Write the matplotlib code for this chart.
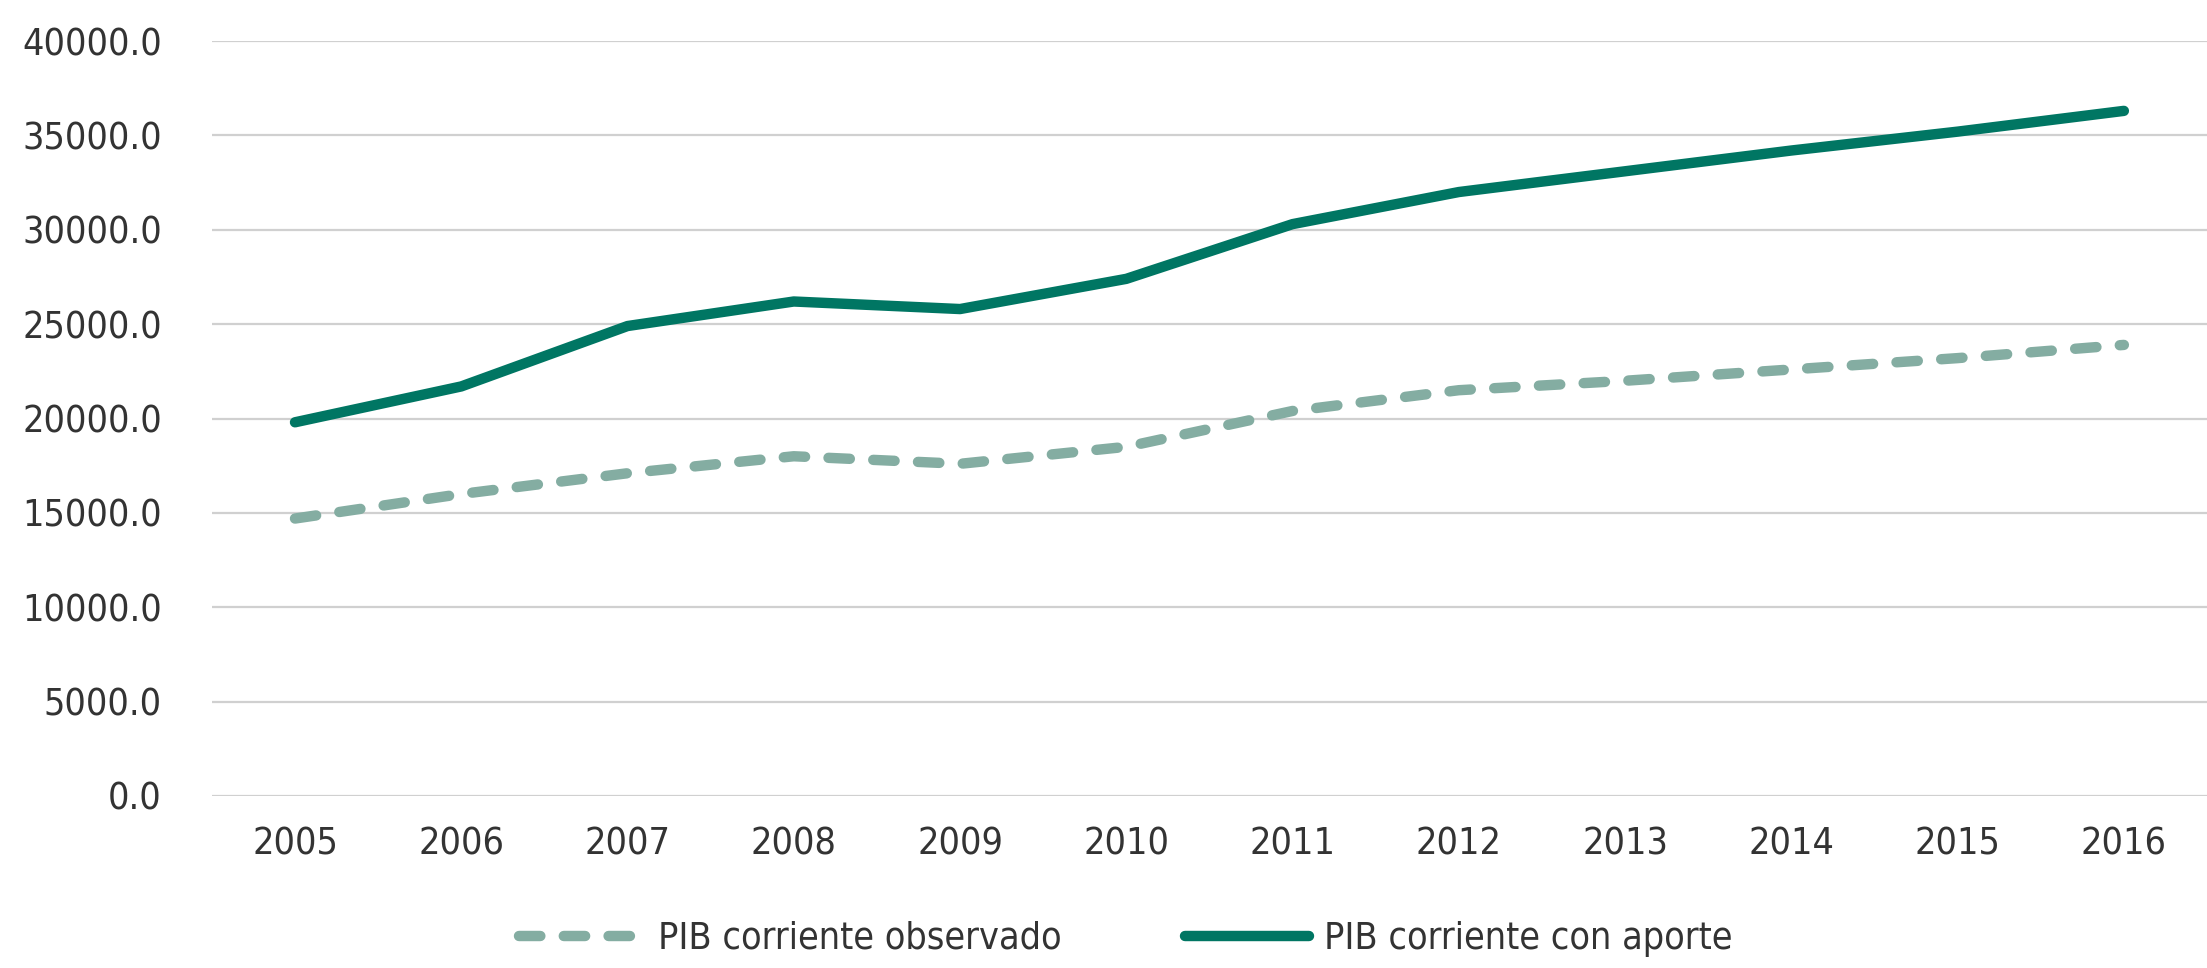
import numpy as np
import matplotlib
matplotlib.use("Agg")
import matplotlib.pyplot as plt

# data
years = ["2005", "2006", "2007", "2008", "2009", "2010",
         "2011", "2012", "2013", "2014", "2015", "2016"]
pib_observado = [14700, 16000, 17100, 18000, 17600, 18500,
                 20400, 21500, 22000, 22600, 23200, 23900]
pib_con_aporte = [19800, 21700, 24900, 26200, 25800, 27400,
                  30300, 32000, 33100, 34200, 35200, 36300]
y_ticks = [0, 5000, 10000, 15000, 20000, 25000, 30000, 35000, 40000]

# condensed face to look like the original narrow font
plt.rcParams['font.family'] = ['DejaVu Sans']
plt.rcParams['font.stretch'] = 'condensed'
text_color = '#333333'

fig = plt.figure(figsize=(22.07, 9.68), dpi=100)
ax = fig.add_axes([0.096, 0.1777, 0.904, 0.7799])

x = np.arange(len(years))
ax.plot(x, pib_observado, color='#84ada2', lw=7.5, dashes=(2.05, 2.25),
        dash_capstyle='round', solid_capstyle='round',
        label='PIB corriente observado')
ax.plot(x, pib_con_aporte, color='#007663', lw=7.5,
        solid_capstyle='round', label='PIB corriente con aporte')

ax.set_xlim(-0.5, len(years) - 0.5)
ax.set_ylim(0, 40000)
ax.set_yticks(y_ticks)
ax.set_yticklabels([f"{v:.1f}" for v in y_ticks])
ax.set_xticks(x)
ax.set_xticklabels(years)
ax.tick_params(axis='both', length=0, labelsize=27, colors=text_color)
ax.tick_params(axis='y', pad=36)
ax.tick_params(axis='x', pad=22)
ax.grid(axis='y', color='#d0d0d0', lw=1.6)
ax.set_axisbelow(True)
for s in ax.spines.values():
    s.set_visible(False)

leg = fig.legend(loc='center', bbox_to_anchor=(0.51, 0.03), ncol=2,
                 frameon=False, fontsize=27, handlelength=3.3,
                 handletextpad=0.4, columnspacing=3.3)
for t in leg.get_texts():
    t.set_color(text_color)

fig.savefig('out.png', dpi=100)
